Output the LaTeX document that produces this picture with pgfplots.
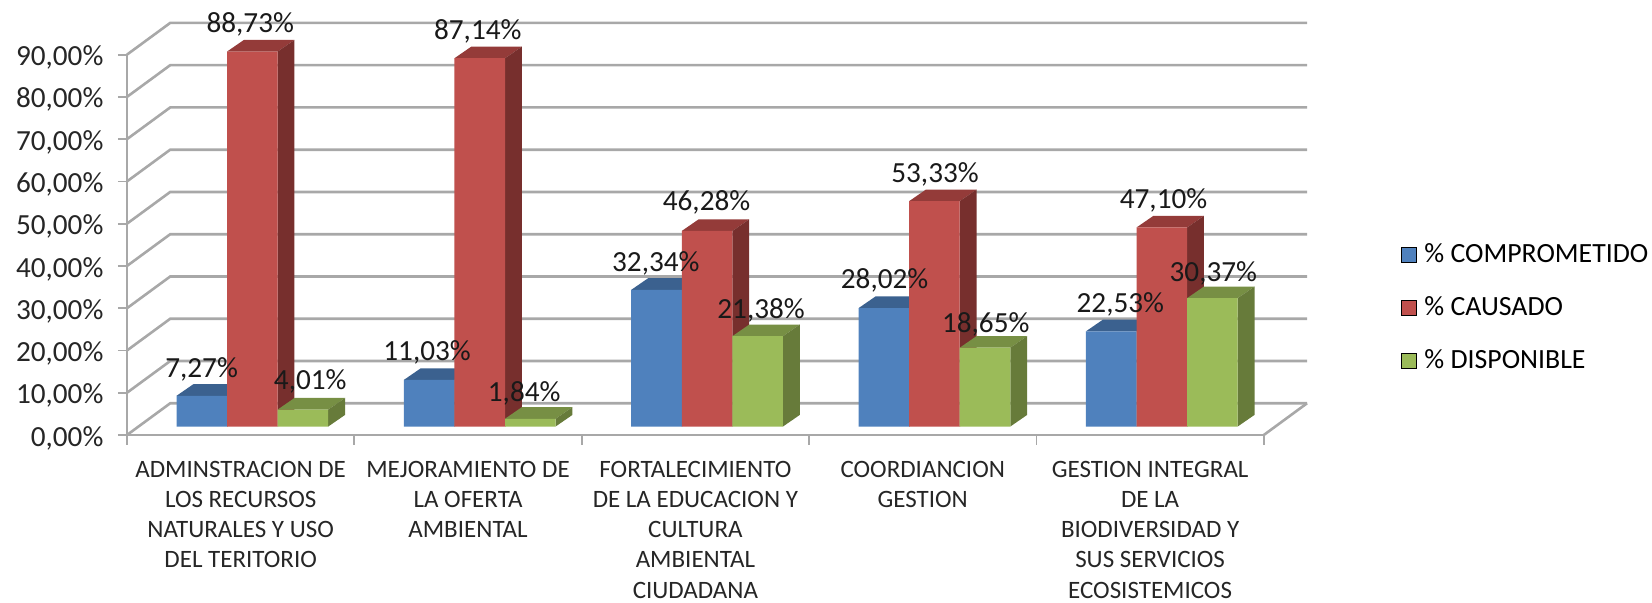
\documentclass[border=0pt]{standalone}
\usepackage{fontspec}
\setmainfont{Carlito}
\usepackage{pgfplots}
\usepackage{pgfplotstable}
\pgfplotsset{compat=1.18}

\definecolor{azul}{HTML}{4F81BD}
\definecolor{azulT}{HTML}{3B618F}
\definecolor{azulS}{HTML}{2F4D71}
\definecolor{rojo}{HTML}{C0504D}
\definecolor{rojoT}{HTML}{943B39}
\definecolor{rojoS}{HTML}{772F2D}
\definecolor{verde}{HTML}{9BBB59}
\definecolor{verdeT}{HTML}{778F44}
\definecolor{verdeS}{HTML}{677B3A}
\definecolor{rejilla}{HTML}{A8A8A8}

% % comprometido, causado, disponible
\pgfplotstableread{
comp caus disp
7.27 88.73 4.01
11.03 87.14 1.84
32.34 46.28 21.38
28.02 53.33 18.65
22.53 47.10 30.37
}\datos

% profundidad de la barra y del fondo, en unidades de los ejes
\def\dxb{0.0741}
\def\dyb{2.75}
\def\dxw{0.19}
\def\dyw{7.5}

\newcommand{\barra}[6]{%
  \pgfmathsetmacro\xa{#1+0.2178+#2*0.2224}%
  \pgfmathsetmacro\xb{\xa+0.2224}%
  \pgfmathsetmacro\xc{\xb+\dxb}%
  \pgfmathsetmacro\xd{\xa+\dxb}%
  \pgfmathsetmacro\yt{2+#3}%
  \pgfmathsetmacro\yu{\yt+\dyb}%
  \pgfmathsetmacro\yb{2+\dyb}%
  \edef\tmp{\noexpand\addplot[fill=#6,draw=none,forget plot] coordinates {(\xa,\yt)(\xb,\yt)(\xc,\yu)(\xd,\yu)(\xa,\yt)};
    \noexpand\addplot[fill=#5,draw=none,forget plot] coordinates {(\xb,2)(\xc,\yb)(\xc,\yu)(\xb,\yt)(\xb,2)};
    \noexpand\addplot[fill=#4,draw=none,forget plot] coordinates {(\xa,2)(\xb,2)(\xb,\yt)(\xa,\yt)(\xa,2)};}%
  \tmp
}
\newcommand{\rejilla}[1]{%
  \pgfmathsetmacro\ya{#1+\dyw}%
  \pgfmathsetmacro\xf{5+\dxw}%
  \edef\tmp{\noexpand\addplot[rejilla,line width=1.3pt,forget plot] coordinates {(0,#1)(\dxw,\ya)(\xf,\ya)};}%
  \tmp
}
\newcommand{\etq}[3]{\node[font=\fontsize{14.6}{16}\selectfont,text=black!90,yshift=-0.7pt] at (axis cs:#1,#2) {#3};}

\begin{document}
\begin{tikzpicture}
\useasboundingbox (0,0) rectangle (826pt,301.5pt);
\begin{axis}[
    at={(63.5pt,84pt)}, anchor=origin,
    scale only axis,
    width=568.4pt, height=190.2pt,
    xmin=0, xmax=5, ymin=0, ymax=90,
    clip=false, no marks,
    axis x line*=bottom, axis y line*=left,
    axis line style={rejilla,line width=1.3pt,-},
    tick align=outside,
    tick style={rejilla,line width=0.9pt},
    xtick={0,1,2,3,4,5},
    x tick label as interval=true,
    xtick style={/pgfplots/major tick length=5pt},
    ytick={0,10,...,90},
    ytick style={/pgfplots/major tick length=4.5pt},
    yticklabel={\pgfmathprintnumber[assume math mode=true,fixed,fixed zerofill,precision=2,use comma]{\tick}\%},
    yticklabel style={font=\fontsize{14.6}{16}\selectfont,text=black!85,xshift=-4pt,yshift=-1.5pt},
    xticklabels={
      {ADMINSTRACION DE\\LOS RECURSOS\\NATURALES Y USO\\DEL TERITORIO},
      {MEJORAMIENTO DE\\LA OFERTA\\AMBIENTAL},
      {FORTALECIMIENTO\\DE LA EDUCACION Y\\CULTURA\\AMBIENTAL\\CIUDADANA},
      {COORDIANCION\\GESTION},
      {GESTION INTEGRAL\\DE LA\\BIODIVERSIDAD Y\\SUS SERVICIOS\\ECOSISTEMICOS}},
    xticklabel style={font=\fontsize{12.5}{15.1}\selectfont,align=center,text=black!85,yshift=-5.2pt},
    legend style={at={(1.12,0.335)},anchor=west,draw=none,fill=none,inner sep=0pt,
      font=\fontsize{13.9}{14}\selectfont,row sep=11.6pt,
      legend cell align=left},
    legend image code/.code={\fill[#1] (0pt,-3.75pt) rectangle (7.5pt,3.75pt);\path (9.5pt,0);},
]
\pgfplotsinvokeforeach{0,10,20,30,40,50,60,70,80,90}{\rejilla{#1}}
\addplot[rejilla,line width=1.3pt,forget plot] coordinates {(5,0)(5.19,7.5)};
\pgfplotsforeachungrouped \i in {0,...,4}{%
  \pgfplotstablegetelem{\i}{comp}\of\datos \let\vala\pgfplotsretval
  \pgfplotstablegetelem{\i}{caus}\of\datos \let\valb\pgfplotsretval
  \pgfplotstablegetelem{\i}{disp}\of\datos \let\valc\pgfplotsretval
  \barra{\i}{0}{\vala}{azul}{azulS}{azulT}
  \barra{\i}{1}{\valb}{rojo}{rojoS}{rojoT}
  \barra{\i}{2}{\valc}{verde}{verdeS}{verdeT}
}
\addlegendimage{fill=azul}\addlegendentry{\% COMPROMETIDO}
\addlegendimage{fill=rojo}\addlegendentry{\% CAUSADO}
\addlegendimage{fill=verde}\addlegendentry{\% DISPONIBLE}
% etiquetas de valor
\etq{0.328}{15.96}{7,27\%}
\etq{0.542}{97.5}{88,73\%}
\etq{0.806}{12.97}{4,01\%}
\etq{1.32}{19.95}{11,03\%}
\etq{1.543}{95.76}{87,14\%}
\etq{1.747}{10.22}{1,84\%}
\etq{2.326}{40.9}{32,34\%}
\etq{2.549}{55.36}{46,28\%}
\etq{2.789}{29.93}{21,38\%}
\etq{3.332}{36.9}{28,02\%}
\etq{3.554}{62.1}{53,33\%}
\etq{3.777}{26.43}{18,65\%}
\etq{4.369}{31.17}{22,53\%}
\etq{4.559}{55.86}{47,10\%}
\etq{4.778}{38.65}{30,37\%}
\end{axis}
\end{tikzpicture}
\end{document}
